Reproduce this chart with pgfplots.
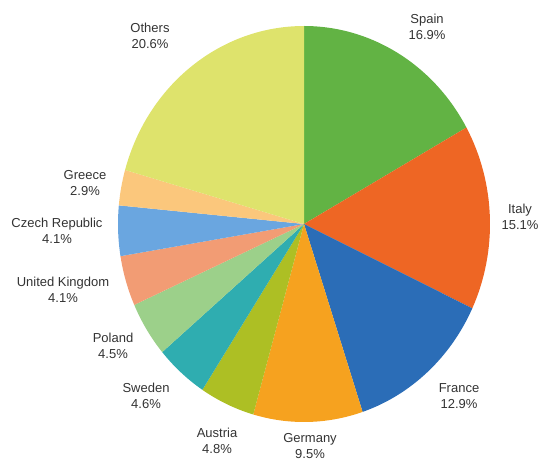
\documentclass[border=0pt]{standalone}
\usepackage{pgfplots}
\usepackage{pgfplotstable}
\pgfplotsset{compat=1.18}
\usepackage{fontspec}
\setmainfont{Liberation Sans}

\definecolor{slice0}{HTML}{62B344}
\definecolor{slice1}{HTML}{EE6624}
\definecolor{slice2}{HTML}{2B6DB7}
\definecolor{slice3}{HTML}{F6A21F}
\definecolor{slice4}{HTML}{ADBF24}
\definecolor{slice5}{HTML}{2FADB0}
\definecolor{slice6}{HTML}{9CD08A}
\definecolor{slice7}{HTML}{F29C74}
\definecolor{slice8}{HTML}{6AA6E0}
\definecolor{slice9}{HTML}{FBC77C}
\definecolor{slice10}{HTML}{DEE36C}
\definecolor{labtext}{HTML}{333333}

% share (%), label centre x, label centre y (image pixels from the top)
\pgfplotstableread[col sep=comma]{
name,pct,lx,ly
Spain,16.9,427,27
Italy,15.1,520,217
France,12.9,459,396
Germany,9.5,310,446
Austria,4.8,217,441
Sweden,4.6,146,396
Poland,4.5,113,346
United Kingdom,4.1,63,290
Czech Republic,4.1,57,231
Greece,2.9,85,183
Others,20.6,150,36
}\piedata

\begin{document}
\begin{tikzpicture}
\begin{axis}[name=ax, x=1pt, y=1pt, xmin=0, xmax=540, ymin=0, ymax=461,
  hide axis, clip=false, scale only axis]
\path (axis cs:0,0) rectangle (axis cs:540,461);
\def\cum{0}
\pgfplotsforeachungrouped \i in {0,...,10}{%
  \pgfplotstablegetelem{\i}{pct}\of\piedata \let\v\pgfplotsretval
  \pgfplotstablegetelem{\i}{name}\of\piedata \let\nm\pgfplotsretval
  \pgfplotstablegetelem{\i}{lx}\of\piedata \let\lx\pgfplotsretval
  \pgfplotstablegetelem{\i}{ly}\of\piedata \let\ly\pgfplotsretval
  \pgfmathsetmacro\aa{90-3.6*\cum}
  \pgfmathsetmacro\ab{90-3.6*(\cum+\v)}
  \pgfmathsetmacro\sx{304+186*cos(\aa)}
  \pgfmathsetmacro\sy{237+198*sin(\aa)}
  \pgfmathsetmacro\ny{461-\ly}
  \edef\doslice{\noexpand\fill[slice\i] (axis cs:304,237) -- (axis cs:\sx,\sy)
     arc[start angle=\aa, end angle=\ab, x radius=186pt, y radius=198pt] -- cycle;
   \noexpand\node[align=center, text=labtext, font=\noexpand\fontsize{13}{16.5}\noexpand\selectfont, inner sep=0pt]
     at (axis cs:\lx,\ny) {\nm\noexpand\\\v\noexpand\%};}
  \doslice
  \pgfmathsetmacro\cum{\cum+\v}
}
\end{axis}
\pgfresetboundingbox
\path (ax.south west) rectangle (ax.north east);
\end{tikzpicture}
\end{document}
